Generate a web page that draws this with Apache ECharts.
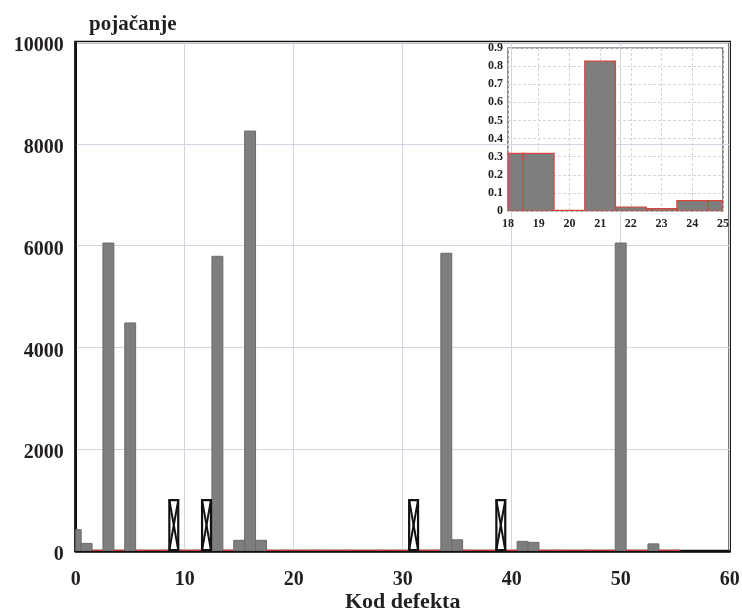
<!DOCTYPE html>
<html>
<head>
<meta charset="utf-8">
<script src="https://cdn.jsdelivr.net/npm/echarts@6/dist/echarts.min.js"></script>
<style>
  html, body { margin: 0; padding: 0; background: #fff; }
  #chart { width: 742px; height: 612px; }
</style>
</head>
<body>
<div id="chart"></div>
<script>
// glavni graf: kod defekta -> pojacanje
const kodovi = [0, 1, 2, 3, 4, 5, 6, 7, 8, 9, 10, 11, 12, 13, 14, 15, 16, 17, 18, 19,
    20, 21, 22, 23, 24, 25, 26, 27, 28, 29, 30, 31, 32, 33, 34, 35, 36, 37, 38, 39,
    40, 41, 42, 43, 44, 45, 46, 47, 48, 49, 50, 51, 52, 53, 54, 55];
const pojacanje = [420, 150, 0, 6050, 0, 4480, 0, 0, 0, 0, 0, 0, 0, 5790, 0, 210, 8250, 210, 0.318, 0.318,
    0.003, 0.828, 0.022, 0.013, 0.057, 0.057, 0, 0, 0, 0, 0, 0, 0, 0, 5850, 220, 0, 0, 0, 0,
    0, 190, 170, 0, 0, 0, 0, 0, 0, 0, 6050, 0, 0, 140, 0, 0];
// kodovi oznaceni praznim okvirom s krizem
const okviri = [9, 12, 31, 39];
const okviriVrijednost = [1000, 1000, 1000, 1000];

// uvecani dio 18-25
const kodoviUvecano = [18, 19, 20, 21, 22, 23, 24, 25];
const pojacanjeUvecano = [0.318, 0.318, 0.003, 0.828, 0.022, 0.013, 0.057, 0.057];

const font = '"Liberation Serif", "DejaVu Serif", serif';
const txt = '#231f20';

var myChart = echarts.init(document.getElementById('chart'));

function barItem(params, api, redEdge) {
    const x = api.value(0), v = api.value(1);
    const p0 = api.coord([x - 0.5, 0]);
    const p1 = api.coord([x + 0.5, v]);
    const cs = params.coordSys;
    const shape = echarts.graphic.clipRectByRect({
        x: p0[0], y: p1[1], width: p1[0] - p0[0], height: p0[1] - p1[1]
    }, { x: cs.x, y: cs.y, width: cs.width, height: cs.height });
    if (!shape) return;
    if (!redEdge && shape.height < 2) {
        // nula -> crvena linija po osi
        return {
            type: 'line',
            shape: { x1: shape.x, y1: p0[1], x2: shape.x + shape.width, y2: p0[1] },
            style: { stroke: '#c8342c', lineWidth: 2.5 }
        };
    }
    return {
        type: 'rect',
        shape: shape,
        style: {
            fill: '#7e7e7e',
            stroke: redEdge ? '#d9443c' : '#6a6a6a',
            lineWidth: redEdge ? 1.2 : 1
        }
    };
}

const _ = {
    animation: false,
    backgroundColor: '#fff',
    title: {
        text: 'pojačanje',
        left: 84,
        top: 9,
        textStyle: { fontFamily: font, fontSize: 21, fontWeight: 'bold', color: txt }
    },
    grid: [
        {
            left: 75.7, right: 12.3, top: 42, bottom: 61, outerBoundsMode: 'none',
            show: true, borderColor: '#111', borderWidth: 2.5, backgroundColor: 'transparent'
        },
        {
            left: 508, top: 48, width: 215, height: 163, outerBoundsMode: 'none',
            show: true, borderColor: '#444', borderWidth: 1.2, backgroundColor: 'transparent'
        }
    ],
    xAxis: [
        {
            gridIndex: 0, type: 'value', min: 0, max: 60, interval: 10,
            name: 'Kod defekta', nameLocation: 'middle', nameGap: 40, nameMoveOverlap: false,
            nameTextStyle: { fontFamily: font, fontSize: 22, fontWeight: 'bold', color: txt },
            axisLine: { show: true, lineStyle: { color: '#111', width: 2.5 } },
            axisTick: { show: false },
            axisLabel: { fontFamily: font, fontSize: 20, fontWeight: 'bold', color: txt, margin: 19 },
            splitLine: { show: true, lineStyle: { color: '#d4d4de', width: 1 } }
        },
        {
            gridIndex: 1, type: 'value', min: 18, max: 25, interval: 1,
            axisLine: { show: false },
            axisTick: { show: false },
            axisLabel: { fontFamily: font, fontSize: 12, fontWeight: 'bold', color: txt, margin: 7 },
            splitLine: { show: true, lineStyle: { color: '#d6d6d6', width: 1, type: [3, 2] } }
        }
    ],
    yAxis: [
        {
            gridIndex: 0, type: 'value', min: 0, max: 10000, interval: 2000,
            axisLine: { show: true, lineStyle: { color: '#111', width: 2.5 } },
            axisTick: { show: false },
            axisLabel: {
                fontFamily: font, fontSize: 20, fontWeight: 'bold', color: txt, margin: 12,
                verticalAlign: 'top', lineHeight: 8,
                formatter: v => String(v)
            },
            splitLine: { show: true, lineStyle: { color: '#d4d4e4', width: 1 } }
        },
        {
            gridIndex: 1, type: 'value', min: 0, max: 0.9, interval: 0.1,
            axisLine: { show: false },
            axisTick: { show: false },
            axisLabel: { fontFamily: font, fontSize: 12, fontWeight: 'bold', color: txt, margin: 5 },
            splitLine: { show: true, lineStyle: { color: '#d6d6d6', width: 1, type: [3, 2] } }
        }
    ],
    series: [
        {
            type: 'custom',
            xAxisIndex: 0, yAxisIndex: 0,
            clip: true,
            data: kodovi.map((k, i) => [k, pojacanje[i]]),
            renderItem: (params, api) => barItem(params, api, false)
        },
        {
            type: 'custom',
            xAxisIndex: 0, yAxisIndex: 0,
            data: okviri.map((k, i) => [k, okviriVrijednost[i]]),
            renderItem: function (params, api) {
                const x = api.value(0), v = api.value(1);
                const a = api.coord([x - 0.5, 0]);
                const b = api.coord([x + 0.5, v]);
                const l = a[0] + 1, r = b[0] - 1, t = b[1], bt = a[1] - 1;
                const st = { stroke: '#111', lineWidth: 2 };
                return {
                    type: 'group',
                    children: [
                        { type: 'rect', shape: { x: l, y: t, width: r - l, height: bt - t }, style: { fill: '#fff', stroke: '#111', lineWidth: 2.2 } },
                        { type: 'line', shape: { x1: l, y1: t, x2: r, y2: bt }, style: st },
                        { type: 'line', shape: { x1: r, y1: t, x2: l, y2: bt }, style: st }
                    ]
                };
            }
        },
        {
            type: 'custom',
            xAxisIndex: 1, yAxisIndex: 1,
            clip: true,
            data: kodoviUvecano.map((k, i) => [k, pojacanjeUvecano[i]]),
            renderItem: (params, api) => barItem(params, api, true)
        }
    ]
};
myChart.setOption(_, true);
</script>
</body>
</html>
